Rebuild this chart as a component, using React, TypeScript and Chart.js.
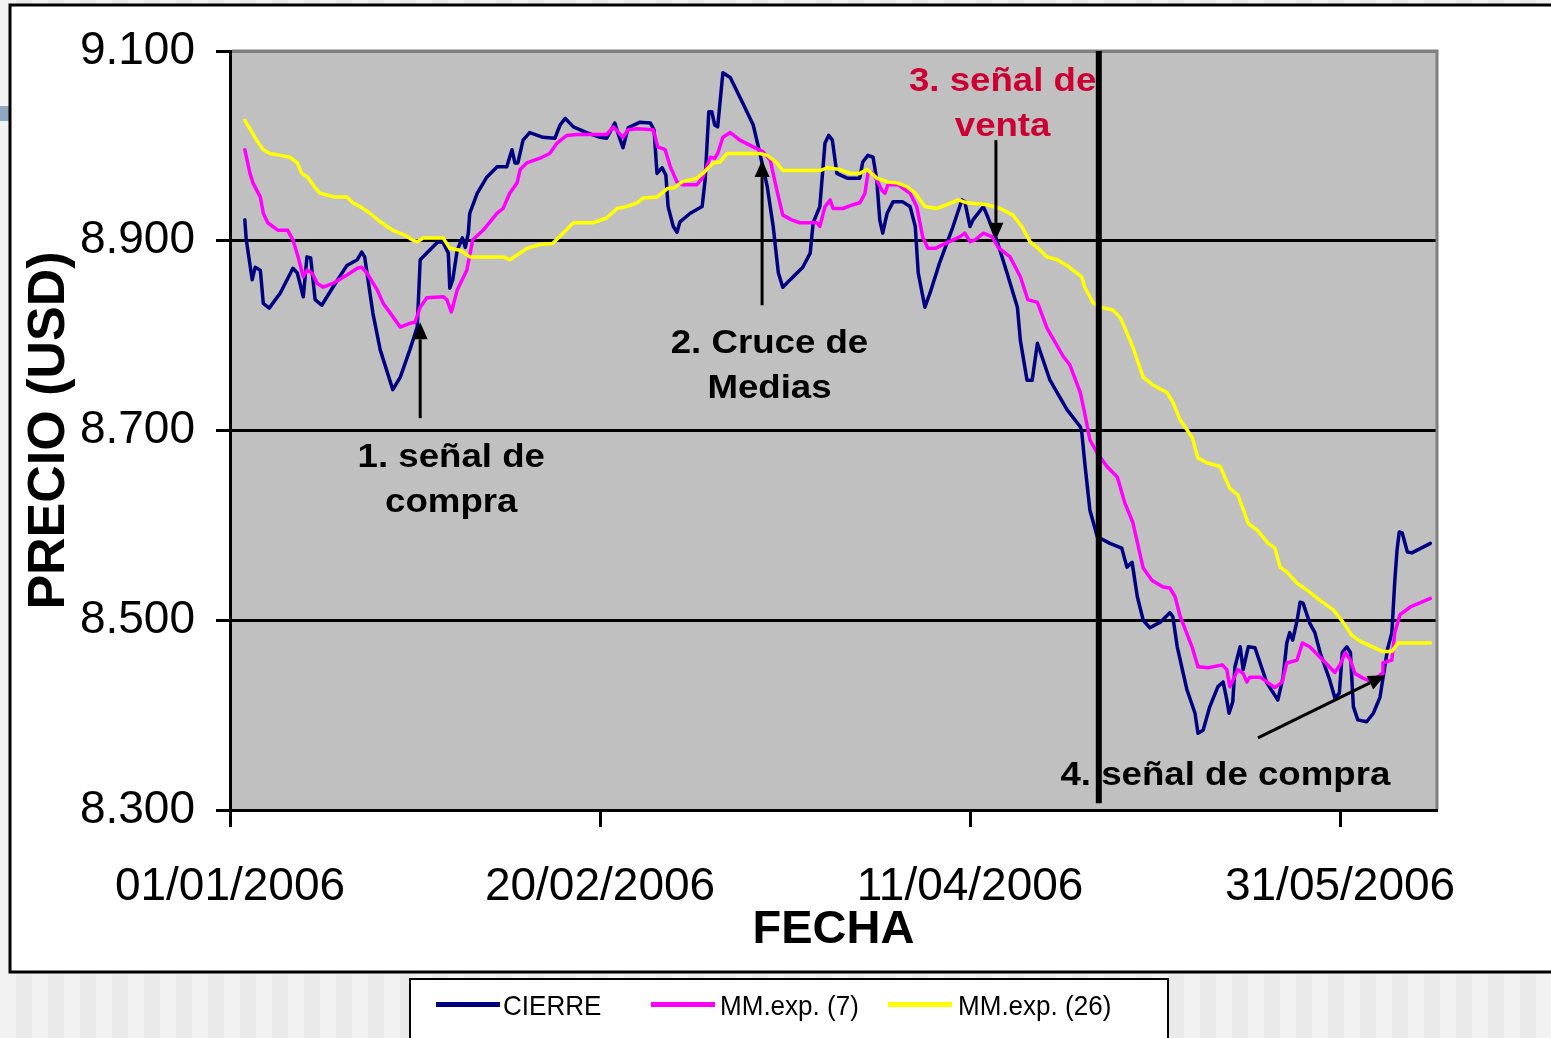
import React, { useEffect, useRef } from 'react';
import { Chart, registerables } from 'chart.js';

Chart.register(...registerables);

// ---------- data ----------
const seriesNames = ['CIERRE', 'MM.exp. (7)', 'MM.exp. (26)'];
const seriesColors = ['#000080', '#FF00FF', '#FFFF00'];

// x = days since 01/01/2006
const xTickValues = [0, 50, 100, 150];
const xTickLabels = ['01/01/2006', '20/02/2006', '11/04/2006', '31/05/2006'];
const yTickValues = [8.3, 8.5, 8.7, 8.9, 9.1];
const yTickLabels = ['8.300', '8.500', '8.700', '8.900', '9.100'];
const xAxisTitle = 'FECHA';
const yAxisTitle = 'PRECIO (USD)';

// [day, price]
const cierre: [number, number][] = [
  [2.0, 8.922], [2.2, 8.901], [3.0, 8.859], [3.4, 8.872], [4.1, 8.869], [4.5, 8.834], [5.3, 8.829],
  [6.8, 8.845], [8.5, 8.871], [9.1, 8.866], [9.9, 8.841], [10.4, 8.883], [10.9, 8.882], [11.5, 8.838],
  [12.4, 8.832], [13.9, 8.851], [15.8, 8.874], [17.2, 8.880], [17.8, 8.888], [18.2, 8.883], [19.3, 8.824],
  [20.3, 8.785], [22.0, 8.743], [23.0, 8.756], [24.3, 8.785], [25.3, 8.809], [25.7, 8.880], [26.6, 8.887],
  [28.1, 8.899], [28.8, 8.898], [29.5, 8.887], [29.7, 8.850], [30.1, 8.859], [30.7, 8.890], [31.4, 8.903],
  [31.8, 8.893], [32.2, 8.908], [32.4, 8.929], [33.4, 8.950], [34.7, 8.967], [36.1, 8.978], [37.4, 8.978],
  [38.1, 8.996], [38.5, 8.982], [38.9, 8.982], [39.6, 9.006], [40.5, 9.014], [42.3, 9.009], [43.9, 9.008],
  [44.6, 9.022], [45.3, 9.029], [46.4, 9.020], [48.2, 9.014], [50.0, 9.009], [50.9, 9.008], [52.0, 9.024],
  [52.4, 9.014], [53.1, 8.998], [53.8, 9.019], [55.4, 9.025], [56.8, 9.024], [57.3, 9.017], [57.7, 8.971],
  [58.4, 8.977], [58.9, 8.969], [59.2, 8.936], [59.9, 8.915], [60.4, 8.909], [60.8, 8.920], [62.2, 8.929],
  [63.8, 8.936], [64.2, 8.964], [64.7, 9.036], [65.1, 9.036], [65.5, 9.022], [65.9, 9.020], [66.6, 9.077],
  [67.6, 9.072], [69.3, 9.045], [70.7, 9.022], [71.6, 8.992], [72.6, 8.957], [73.4, 8.915], [74.1, 8.866],
  [74.7, 8.851], [75.7, 8.859], [77.4, 8.872], [78.4, 8.887], [78.8, 8.919], [79.7, 8.936], [80.4, 9.003],
  [80.9, 9.011], [81.4, 9.006], [82.0, 8.971], [83.4, 8.966], [85.1, 8.966], [85.5, 8.983], [86.2, 8.990],
  [86.9, 8.988], [87.4, 8.964], [87.8, 8.922], [88.2, 8.908], [88.8, 8.929], [89.6, 8.941], [90.9, 8.941],
  [91.9, 8.936], [92.6, 8.915], [93.0, 8.866], [93.9, 8.830], [94.6, 8.845], [95.9, 8.877], [97.7, 8.915],
  [98.9, 8.943], [99.3, 8.941], [100.0, 8.915], [100.4, 8.922], [101.8, 8.936], [102.4, 8.925], [103.6, 8.901],
  [105.0, 8.866], [106.4, 8.830], [106.8, 8.795], [107.7, 8.753], [108.4, 8.753], [109.1, 8.792], [110.8, 8.753],
  [113.1, 8.722], [114.9, 8.704], [115.1, 8.698], [115.5, 8.666], [116.2, 8.616], [117.2, 8.588], [118.9, 8.581],
  [120.5, 8.576], [121.2, 8.556], [121.9, 8.561], [122.6, 8.525], [123.4, 8.500], [124.3, 8.492], [125.7, 8.498],
  [127.0, 8.508], [127.4, 8.504], [128.0, 8.472], [129.3, 8.427], [130.4, 8.402], [130.8, 8.381], [131.5, 8.384],
  [132.4, 8.409], [133.5, 8.430], [134.2, 8.435], [134.7, 8.416], [135.0, 8.402], [135.5, 8.414], [135.8, 8.451],
  [136.5, 8.472], [136.9, 8.448], [137.6, 8.472], [138.5, 8.471], [139.2, 8.455], [140.1, 8.434], [141.6, 8.416],
  [142.3, 8.440], [142.8, 8.476], [143.2, 8.487], [143.6, 8.479], [144.2, 8.500], [144.6, 8.519], [145.0, 8.518],
  [145.9, 8.497], [146.6, 8.487], [147.3, 8.466], [148.6, 8.437], [149.3, 8.418], [149.9, 8.423], [150.3, 8.466],
  [150.9, 8.472], [151.4, 8.466], [151.8, 8.409], [152.4, 8.395], [153.6, 8.393], [154.5, 8.402], [155.4, 8.419],
  [156.4, 8.469], [157.0, 8.487], [157.4, 8.542], [157.7, 8.574], [158.0, 8.593], [158.4, 8.592], [159.1, 8.572],
  [159.7, 8.571], [162.2, 8.581],
];

const mmExp7: [number, number][] = [
  [2.0, 8.996], [2.7, 8.971], [3.1, 8.961], [4.1, 8.946], [4.5, 8.929], [5.1, 8.919], [6.5, 8.911], [7.8, 8.911],
  [8.5, 8.901], [9.2, 8.883], [9.9, 8.862], [10.4, 8.869], [11.1, 8.866], [11.8, 8.855], [12.6, 8.851], [13.9, 8.855],
  [15.8, 8.864], [17.2, 8.871], [17.8, 8.872], [18.5, 8.866], [19.9, 8.848], [20.7, 8.834], [22.0, 8.820], [23.0, 8.809],
  [24.3, 8.813], [25.0, 8.814], [25.7, 8.830], [26.6, 8.840], [28.8, 8.841], [29.3, 8.838], [29.9, 8.825], [30.1, 8.830],
  [30.7, 8.848], [32.0, 8.869], [32.8, 8.901], [34.2, 8.911], [36.1, 8.929], [36.9, 8.934], [37.8, 8.950], [38.8, 8.961],
  [39.2, 8.975], [40.1, 8.982], [41.9, 8.987], [43.2, 8.992], [44.2, 9.003], [45.5, 9.011], [46.9, 9.012], [50.9, 9.012],
  [51.8, 9.020], [52.4, 9.015], [53.1, 9.009], [53.8, 9.017], [55.0, 9.018], [57.2, 9.017], [57.8, 8.999], [58.8, 8.996],
  [59.5, 8.978], [60.4, 8.962], [61.1, 8.959], [63.1, 8.959], [63.9, 8.967], [64.9, 8.988], [65.5, 8.987], [65.9, 8.992],
  [66.6, 9.009], [67.6, 9.014], [68.9, 9.006], [70.7, 8.999], [72.0, 8.994], [73.0, 8.985], [73.9, 8.953], [74.7, 8.927],
  [75.9, 8.922], [77.0, 8.919], [79.3, 8.919], [79.7, 8.915], [80.4, 8.936], [81.1, 8.943], [81.5, 8.934], [82.8, 8.934],
  [84.2, 8.938], [85.1, 8.940], [85.8, 8.950], [86.2, 8.971], [86.8, 8.972], [87.4, 8.964], [88.1, 8.953], [88.5, 8.950],
  [88.9, 8.959], [90.3, 8.959], [91.9, 8.950], [92.8, 8.936], [93.6, 8.904], [94.3, 8.892], [95.3, 8.892], [96.9, 8.898],
  [98.6, 8.904], [99.3, 8.908], [100.0, 8.899], [100.7, 8.901], [101.8, 8.908], [103.0, 8.904], [103.8, 8.893],
  [105.4, 8.883], [106.8, 8.862], [107.8, 8.838], [109.1, 8.835], [110.4, 8.808], [112.6, 8.778], [113.5, 8.769],
  [114.9, 8.740], [115.5, 8.718], [116.2, 8.690], [117.2, 8.676], [118.5, 8.662], [119.9, 8.651], [120.9, 8.624],
  [122.0, 8.603], [123.4, 8.555], [124.6, 8.542], [126.1, 8.535], [127.0, 8.534], [127.7, 8.525], [128.4, 8.504],
  [130.0, 8.472], [130.8, 8.451], [132.2, 8.450], [134.1, 8.453], [134.7, 8.448], [135.1, 8.430], [136.2, 8.448],
  [136.9, 8.444], [137.4, 8.435], [137.8, 8.440], [139.2, 8.440], [141.2, 8.429], [142.2, 8.435], [142.8, 8.455],
  [144.2, 8.458], [144.9, 8.476], [145.9, 8.472], [147.3, 8.461], [149.3, 8.445], [150.0, 8.453], [150.7, 8.466],
  [151.4, 8.458], [152.0, 8.444], [153.1, 8.439], [154.3, 8.435], [155.7, 8.444], [155.8, 8.455], [157.0, 8.458],
  [157.4, 8.487], [158.1, 8.506], [159.5, 8.514], [162.2, 8.523],
];

const mmExp26: [number, number][] = [
  [2.0, 9.027], [3.0, 9.014], [3.6, 9.006], [4.5, 8.996], [5.4, 8.992], [6.8, 8.990], [8.1, 8.988], [9.1, 8.982],
  [9.7, 8.971], [10.5, 8.967], [11.5, 8.956], [12.2, 8.950], [14.2, 8.946], [15.8, 8.946], [16.6, 8.940], [17.6, 8.936],
  [18.9, 8.929], [20.3, 8.920], [22.0, 8.911], [23.6, 8.906], [24.6, 8.901], [25.3, 8.899], [26.1, 8.903], [28.8, 8.903],
  [29.7, 8.892], [31.1, 8.890], [32.4, 8.883], [36.9, 8.883], [37.8, 8.880], [38.8, 8.885], [40.1, 8.892], [41.9, 8.896],
  [43.6, 8.897], [45.0, 8.908], [46.4, 8.919], [49.1, 8.919], [50.9, 8.924], [52.3, 8.934], [53.6, 8.936], [55.0, 8.940],
  [55.8, 8.945], [57.7, 8.946], [59.1, 8.955], [60.1, 8.956], [61.1, 8.962], [63.1, 8.966], [63.9, 8.971], [65.3, 8.982],
  [66.2, 8.983], [67.2, 8.992], [71.6, 8.992], [72.6, 8.990], [73.9, 8.982], [74.7, 8.974], [79.7, 8.974], [80.8, 8.977],
  [82.4, 8.975], [83.8, 8.971], [85.1, 8.971], [86.1, 8.975], [87.4, 8.966], [88.8, 8.962], [90.1, 8.961], [91.5, 8.957],
  [92.6, 8.950], [93.9, 8.936], [95.5, 8.934], [96.9, 8.938], [98.4, 8.943], [99.6, 8.940], [102.3, 8.938], [104.1, 8.934],
  [105.8, 8.927], [107.0, 8.915], [108.1, 8.899], [109.2, 8.892], [110.4, 8.883], [111.8, 8.880], [113.1, 8.874],
  [113.9, 8.869], [115.1, 8.862], [115.5, 8.851], [116.6, 8.835], [117.6, 8.830], [119.3, 8.827], [120.3, 8.819],
  [121.2, 8.803], [122.0, 8.788], [123.4, 8.756], [124.7, 8.748], [126.6, 8.740], [127.4, 8.730], [128.4, 8.711],
  [130.0, 8.693], [130.8, 8.671], [132.0, 8.666], [133.8, 8.662], [135.1, 8.639], [136.2, 8.632], [137.6, 8.602],
  [138.8, 8.595], [140.3, 8.581], [141.2, 8.576], [141.9, 8.556], [142.8, 8.551], [144.2, 8.539], [145.5, 8.532],
  [147.3, 8.521], [149.1, 8.511], [150.4, 8.498], [151.6, 8.484], [152.7, 8.478], [154.1, 8.473], [155.8, 8.467],
  [157.0, 8.467], [157.8, 8.476], [162.2, 8.476],
];

// annotations (in data coordinates: day, price)
const signalLine = { day: 117.4, from: 9.1, to: 8.307 };
const notes = [
  { lines: ['1. señal de', 'compra'], day: 29.9, price: 8.671, color: '#000000' },
  { lines: ['2. Cruce de', 'Medias'], day: 72.9, price: 8.791, color: '#000000' },
  { lines: ['3. señal de', 'venta'], day: 104.4, price: 9.067, color: '#CC0033' },
  { lines: ['4. señal de compra'], day: 134.5, price: 8.336, color: '#000000' },
];
const arrows = [
  { fromDay: 25.7, fromPrice: 8.713, toDay: 25.7, toPrice: 8.814 },
  { fromDay: 71.9, fromPrice: 8.832, toDay: 71.9, toPrice: 8.985 },
  { fromDay: 103.5, fromPrice: 9.006, toDay: 103.5, toPrice: 8.901 },
  { fromDay: 138.9, fromPrice: 8.376, toDay: 156.1, toPrice: 8.442 },
];

// ---------- helpers ----------
function fontAvailable(name: string): boolean {
  try {
    const c = document.createElement('canvas').getContext('2d');
    if (!c) return false;
    const s = 'abcdefghijklmnopqrstuvwxyzMW0123456789';
    c.font = '40px monospace';
    const w1 = c.measureText(s).width;
    c.font = `40px '${name}', monospace`;
    const w2 = c.measureText(s).width;
    return Math.abs(w1 - w2) > 0.5;
  } catch (e) {
    return false;
  }
}

function scaledText(ctx: CanvasRenderingContext2D, text: string, x: number, y: number, sx: number) {
  ctx.save();
  ctx.translate(x, y);
  ctx.scale(sx, 1);
  ctx.fillText(text, 0, 0);
  ctx.restore();
}

const pagePlugin = {
  id: 'pageDecor',
  beforeDraw(chart: any) {
    const ctx = chart.ctx as CanvasRenderingContext2D;
    const W = chart.width, H = chart.height;
    ctx.save();
    for (let x = 0; x < W; x += 32) {
      ctx.fillStyle = '#f2f2f2';
      ctx.fillRect(x, 0, 16, H);
      ctx.fillStyle = '#eaeaea';
      ctx.fillRect(x + 16, 0, 16, H);
    }
    ctx.fillStyle = '#8fa7c0';
    ctx.fillRect(0, 106, 9, 15);
    ctx.fillStyle = '#ffffff';
    ctx.fillRect(10, 5, W - 10, 967);
    ctx.strokeStyle = '#000000';
    ctx.lineWidth = 3;
    ctx.beginPath();
    ctx.moveTo(W + 3, 5);
    ctx.lineTo(10, 5);
    ctx.lineTo(10, 972);
    ctx.lineTo(W + 3, 972);
    ctx.stroke();
    const a = chart.chartArea;
    ctx.fillStyle = '#C0C0C0';
    ctx.fillRect(a.left, a.top, a.right - a.left, a.bottom - a.top);
    ctx.restore();
  },
  beforeDatasetsDraw(chart: any) {
    const ctx = chart.ctx as CanvasRenderingContext2D;
    const a = chart.chartArea;
    ctx.save();
    ctx.strokeStyle = '#808080';
    ctx.lineWidth = 3;
    ctx.beginPath();
    ctx.moveTo(a.left + 2, a.top);
    ctx.lineTo(a.right, a.top);
    ctx.lineTo(a.right, a.bottom - 1);
    ctx.stroke();
    ctx.restore();
  },
};

const annotationPlugin = {
  id: 'signals',
  afterDatasetsDraw(chart: any) {
    const ctx = chart.ctx as CanvasRenderingContext2D;
    const xs = chart.scales.x, ys = chart.scales.y;
    ctx.save();
    // vertical signal line
    const vx = xs.getPixelForValue(signalLine.day);
    ctx.strokeStyle = '#000000';
    ctx.lineWidth = 6;
    ctx.beginPath();
    ctx.moveTo(vx, ys.getPixelForValue(signalLine.from));
    ctx.lineTo(vx, ys.getPixelForValue(signalLine.to));
    ctx.stroke();
    // arrows
    for (const ar of arrows) {
      const x1 = xs.getPixelForValue(ar.fromDay), y1 = ys.getPixelForValue(ar.fromPrice);
      const x2 = xs.getPixelForValue(ar.toDay), y2 = ys.getPixelForValue(ar.toPrice);
      const ang = Math.atan2(y2 - y1, x2 - x1);
      const headLen = 17, halfW = 7.5;
      const bx = x2 - headLen * Math.cos(ang), by = y2 - headLen * Math.sin(ang);
      ctx.strokeStyle = '#000000';
      ctx.lineWidth = 3;
      ctx.beginPath();
      ctx.moveTo(x1, y1);
      ctx.lineTo(bx, by);
      ctx.stroke();
      ctx.fillStyle = '#000000';
      ctx.beginPath();
      ctx.moveTo(x2, y2);
      ctx.lineTo(bx + halfW * Math.sin(ang), by - halfW * Math.cos(ang));
      ctx.lineTo(bx - halfW * Math.sin(ang), by + halfW * Math.cos(ang));
      ctx.closePath();
      ctx.fill();
    }
    // text notes
    ctx.font = "bold 33px 'Liberation Sans', Arial, sans-serif";
    ctx.textAlign = 'center';
    ctx.textBaseline = 'middle';
    for (const n of notes) {
      const cx = xs.getPixelForValue(n.day);
      const cy = ys.getPixelForValue(n.price);
      ctx.fillStyle = n.color;
      n.lines.forEach((ln, i) => scaledText(ctx, ln, cx, cy + i * 45, 1.11));
    }
    ctx.restore();
  },
};

const legendPlugin = {
  id: 'boxLegend',
  afterDraw(chart: any) {
    const ctx = chart.ctx as CanvasRenderingContext2D;
    ctx.save();
    ctx.fillStyle = '#ffffff';
    ctx.fillRect(410, 979, 758, 70);
    ctx.strokeStyle = '#000000';
    ctx.lineWidth = 2;
    ctx.strokeRect(410, 979, 758, 70);
    const sampleX = [436, 651, 888];
    const textX = [503, 720, 958];
    ctx.font = "28px 'Liberation Sans', Arial, sans-serif";
    ctx.textAlign = 'left';
    ctx.textBaseline = 'alphabetic';
    seriesNames.forEach((name, i) => {
      ctx.strokeStyle = seriesColors[i];
      ctx.lineWidth = 5;
      ctx.beginPath();
      ctx.moveTo(sampleX[i], 1004.5);
      ctx.lineTo(sampleX[i] + 64, 1004.5);
      ctx.stroke();
      ctx.fillStyle = '#000000';
      scaledText(ctx, name, textX[i], 1015, 0.93);
    });
    ctx.restore();
  },
};

export default function App() {
  const ref = useRef<HTMLCanvasElement>(null);

  useEffect(() => {
    const canvas = ref.current;
    if (!canvas) return;
    const narrow = fontAvailable('Liberation Sans Narrow');
    const fam = narrow
      ? "'Liberation Sans Narrow', 'Liberation Sans', Arial, sans-serif"
      : "'Liberation Sans', Arial, sans-serif";
    const tickSize = narrow ? 54 : 46;
    const yTitleSize = narrow ? 60 : 52;
    const xTitleSize = narrow ? 53 : 47;

    const toPoints = (arr: [number, number][]) => arr.map(([x, y]) => ({ x, y }));
    const datasets = [cierre, mmExp7, mmExp26].map((arr, i) => ({
      label: seriesNames[i],
      data: toPoints(arr),
      borderColor: seriesColors[i],
      backgroundColor: seriesColors[i],
      borderWidth: 3.5,
      borderJoinStyle: 'round',
      borderCapStyle: 'round',
      pointRadius: 0,
      tension: 0,
      fill: false,
      order: 3 - i,
    }));

    const chart = new Chart(canvas, {
      type: 'line',
      data: { datasets },
      options: {
        responsive: false,
        animation: false,
        events: [],
        layout: { padding: { top: 51, right: 114, bottom: 0, left: 0 } },
        plugins: { legend: { display: false }, tooltip: { enabled: false } },
        scales: {
          x: {
            type: 'linear',
            min: 0,
            max: 163.1,
            afterFit: (s: any) => { s.height = 228; },
            afterBuildTicks: (s: any) => { s.ticks = xTickValues.map((v) => ({ value: v })); },
            ticks: {
              autoSkip: false,
              maxRotation: 0,
              minRotation: 0,
              padding: 33,
              color: '#000000',
              font: { family: fam, size: tickSize },
              callback: (v: any) => {
                const i = xTickValues.indexOf(Number(v));
                return i >= 0 ? xTickLabels[i] : '';
              },
            },
            grid: { drawOnChartArea: false, tickLength: 17, tickWidth: 3, tickColor: '#000000' },
            border: { color: '#000000', width: 3 },
            title: {
              display: true,
              text: xAxisTitle,
              color: '#000000',
              font: { family: fam, size: xTitleSize, weight: 'bold' },
              padding: { top: 0, bottom: 80 },
            },
          },
          y: {
            type: 'linear',
            min: 8.3,
            max: 9.1,
            afterFit: (s: any) => { s.width = 230; },
            afterBuildTicks: (s: any) => { s.ticks = yTickValues.map((v) => ({ value: v })); },
            ticks: {
              padding: 21,
              color: '#000000',
              font: { family: fam, size: tickSize },
              callback: (_v: any, i: number) => yTickLabels[i],
            },
            grid: {
              color: (c: any) => (c.tick && Math.abs(c.tick.value - 9.1) < 1e-6 ? '#808080' : '#000000'),
              lineWidth: 3,
              tickLength: 14,
              tickWidth: 3,
              tickColor: '#000000',
            },
            border: { color: '#000000', width: 3 },
            title: {
              display: true,
              text: yAxisTitle,
              color: '#000000',
              font: { family: fam, size: yTitleSize, weight: 'bold' },
              padding: { top: 18, bottom: 0 },
            },
          },
        },
      } as any,
      plugins: [pagePlugin, annotationPlugin, legendPlugin],
    });
    return () => chart.destroy();
  }, []);

  return (
    <div style={{ position: 'fixed', left: 0, top: 0, width: 1551, height: 1038, overflow: 'hidden' }}>
      <canvas ref={ref} width={1551} height={1038} style={{ display: 'block', width: 1551, height: 1038 }} />
    </div>
  );
}
